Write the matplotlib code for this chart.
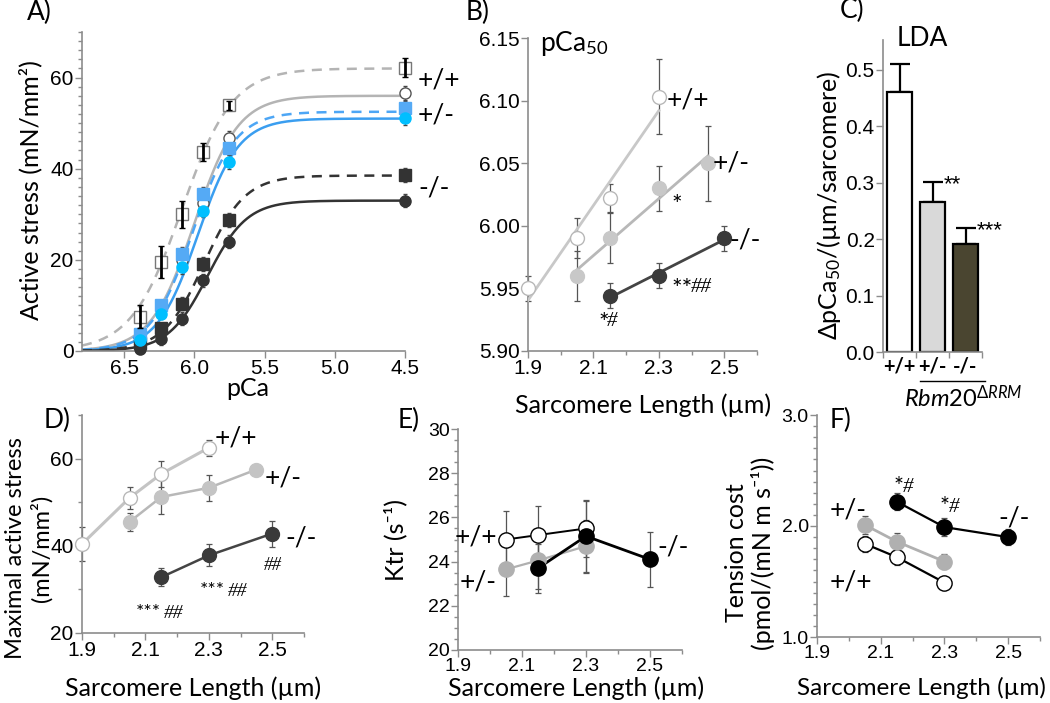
import numpy as np
import matplotlib
matplotlib.use("Agg")
import matplotlib.pyplot as plt
from matplotlib.ticker import MultipleLocator, FixedLocator

plt.rcParams['font.family'] = ['Lato', 'DejaVu Sans']
plt.rcParams['mathtext.fontset'] = 'custom'
plt.rcParams['mathtext.rm'] = 'Lato'
plt.rcParams['mathtext.it'] = 'Lato:italic'

W, H = 1050, 703
TICKFONT = ['Liberation Sans', 'DejaVu Sans']
LBL = 17.5
TK = 14

# ---------------- Panel A data ----------------
pCa_pts = [6.39, 6.24, 6.09, 5.94, 5.75, 4.5]
A_wt23 = [7.5, 19.5, 30.0, 43.7, 53.9, 62.2]
A_wt23_err = [2.5, 3.5, 3.0, 2.0, 1.0, 2.0]
A_wt215 = [4.0, 9.5, 20.0, 32.5, 46.8, 56.6]
A_het23 = [3.8, 10.0, 21.3, 34.4, 44.6, 53.3]
A_het215 = [2.4, 8.2, 18.4, 30.8, 41.5, 51.2]
A_ko23 = [1.7, 5.0, 10.4, 19.1, 28.8, 38.6]
A_ko215 = [0.4, 2.6, 7.1, 15.5, 24.0, 33.0]
A_small_err = [1.0, 1.2, 1.5, 1.5, 1.5, 1.5]
# Hill fit parameters (Fmax, pCa50, nH) for curves
hill_Fmax = [62.0, 56.0, 52.5, 51.0, 38.5, 33.0]
hill_pCa50 = [6.09, 6.00, 6.01, 5.975, 5.93, 5.905]
hill_nH = [2.4, 2.8, 2.9, 3.0, 3.0, 3.1]

# ---------------- Panel B data ----------------
B_wt_x = [1.9, 2.05, 2.15, 2.3]
B_wt_y = [5.95, 5.99, 6.022, 6.103]
B_wt_e = [0.01, 0.016, 0.011, 0.03]
B_het_x = [2.05, 2.15, 2.3, 2.45]
B_het_y = [5.96, 5.99, 6.03, 6.05]
B_het_e = [0.02, 0.02, 0.018, 0.03]
B_ko_x = [2.15, 2.3, 2.5]
B_ko_y = [5.944, 5.96, 5.99]
B_ko_e = [0.01, 0.01, 0.01]

# ---------------- Panel C data ----------------
C_groups = ['+/+', '+/-', '-/-']
C_vals = [0.46, 0.265, 0.192]
C_err = [0.05, 0.036, 0.028]
C_colors = ['white', '#d9d9d9', '#4a4530']
C_sig = ['', '**', '***']

# ---------------- Panel D data ----------------
D_wt_x = [1.9, 2.05, 2.15, 2.3]
D_wt_y = [40.4, 51.0, 56.5, 62.5]
D_wt_e = [4.0, 2.5, 3.0, 1.8]
D_het_x = [2.05, 2.15, 2.3, 2.45]
D_het_y = [45.5, 51.2, 53.3, 57.5]
D_het_e = [2.0, 4.0, 3.0, 0.5]
D_ko_x = [2.15, 2.3, 2.5]
D_ko_y = [32.8, 37.8, 42.8]
D_ko_e = [2.0, 2.5, 3.0]

# ---------------- Panel E data ----------------
E_wt_x = [2.05, 2.15, 2.3]
E_wt_y = [25.0, 25.2, 25.5]
E_wt_e = [1.3, 1.3, 1.3]
E_het_x = [2.05, 2.15, 2.3]
E_het_y = [23.65, 24.05, 24.7]
E_het_e = [1.2, 1.3, 1.2]
E_ko_x = [2.15, 2.3, 2.5]
E_ko_y = [23.7, 25.15, 24.1]
E_ko_e = [1.1, 1.6, 1.25]

# ---------------- Panel F data ----------------
F_wt_x = [2.05, 2.15, 2.3]
F_wt_y = [1.84, 1.72, 1.49]
F_wt_e = [0.07, 0.07, 0.05]
F_het_x = [2.05, 2.15, 2.3]
F_het_y = [2.01, 1.86, 1.68]
F_het_e = [0.08, 0.08, 0.07]
F_ko_x = [2.15, 2.3, 2.5]
F_ko_y = [2.22, 1.99, 1.90]
F_ko_e = [0.08, 0.08, 0.07]

fig = plt.figure(figsize=(W / 100, H / 100), dpi=100)


def ax_at(l, t, r, b):
    return fig.add_axes([l / W, 1 - b / H, (r - l) / W, (b - t) / H])


def style(ax, tk=TK):
    for s in ['top', 'right']:
        ax.spines[s].set_visible(False)
    for s in ['left', 'bottom']:
        ax.spines[s].set_color('#8c8c8c')
        ax.spines[s].set_linewidth(1.2)
    ax.tick_params(which='both', direction='out', color='#8c8c8c', width=1.0)
    ax.tick_params(which='major', length=5, labelsize=tk, pad=1)
    ax.tick_params(which='minor', length=3)
    ax.set_facecolor('none')
    for lab in ax.get_xticklabels() + ax.get_yticklabels():
        lab.set_family(TICKFONT)


def ftx(x, y, s, size=LBL, **kw):
    fig.text(x / W, 1 - y / H, s, fontsize=size, **kw)


def sl_axis(ax):
    ax.set_xlim(1.9, 2.6)
    ax.xaxis.set_major_locator(FixedLocator([1.9, 2.1, 2.3, 2.5]))
    ax.xaxis.set_minor_locator(FixedLocator([2.0, 2.2, 2.4, 2.6]))
    ax.tick_params(axis='x', which='minor', length=5)


def series(ax, x, y, e, fc, ec, lc, ms, lw=1.8, ecol='#555555'):
    ax.errorbar(x, y, yerr=e, fmt='none', ecolor=ecol, elinewidth=0.9,
                capsize=2.5, capthick=0.9, zorder=2, clip_on=False)
    ax.plot(x, y, '-', color=lc, lw=lw, zorder=3, clip_on=False)
    ax.plot(x, y, 'o', ms=ms, mfc=fc, mec=ec, mew=1.0, zorder=4, clip_on=False)


SERIF = ['Liberation Serif', 'DejaVu Serif']

# ================= Panel A =================
axA = ax_at(82, 32, 405, 351)
xs = np.linspace(6.8, 4.5, 400)
curve_styles = [('#b4b4b4', '--'), ('#b4b4b4', '-'), ('#4da6f5', '--'),
                ('#3a9ef0', '-'), ('#333333', '--'), ('#333333', '-')]
for (c, ls), fm, p50, nh in zip(curve_styles, hill_Fmax, hill_pCa50, hill_nH):
    line, = axA.plot(xs, fm / (1 + 10 ** (nh * (xs - p50))), color=c, lw=1.8,
                     zorder=2)
    if ls == '--':
        line.set_dashes((4, 3))
axA.errorbar(pCa_pts, A_wt23, yerr=A_wt23_err, fmt='none', ecolor='black',
             elinewidth=2.0, capsize=2, zorder=5, clip_on=False)
for yv, mk, fc, ec in [(A_wt215, 'o', 'white', '#555555'),
                       (A_wt23, 's', 'white', '#777777'),
                       (A_ko215, 'o', '#333333', '#333333'),
                       (A_ko23, 's', '#333333', '#333333'),
                       (A_het23, 's', '#55aaf5', '#55aaf5'),
                       (A_het215, 'o', '#00bfff', '#00bfff')]:
    if yv is not A_wt23:
        axA.errorbar(pCa_pts, yv, yerr=A_small_err, fmt='none', ecolor='#444444',
                     elinewidth=0.9, capsize=1.5, zorder=3, clip_on=False)
    axA.plot(pCa_pts, yv, mk, ms=8, mfc=fc, mec=ec, mew=1.0, zorder=4,
             clip_on=False)
axA.set_xlim(6.8, 4.5)
axA.set_ylim(0, 70)
axA.xaxis.set_major_locator(FixedLocator([6.5, 6.0, 5.5, 5.0, 4.5]))
axA.yaxis.set_major_locator(FixedLocator([0, 20, 40, 60]))
axA.yaxis.set_minor_locator(MultipleLocator(2))
style(axA, 15)
ftx(27, 20, 'A)', size=19)
ftx(30, 190, 'Active stress (mN/mm²)', rotation=90, ha='center', va='center',
    size=18)
ftx(248, 388, 'pCa', ha='center', va='center', size=18)
ftx(418, 80, '+/+', ha='left', va='center', size=19)
ftx(418, 115, '+/-', ha='left', va='center', size=19)
ftx(418, 188, '-/-', ha='left', va='center', size=19)

# ================= Panel B =================
axB = ax_at(528, 38, 757, 351)
for x, y, e, fc, ec, lc in [(B_wt_x, B_wt_y, B_wt_e, 'white', '#b8b8b8', '#c8c8c8'),
                            (B_het_x, B_het_y, B_het_e, '#c8c8c8', '#c8c8c8', '#b8b8b8'),
                            (B_ko_x, B_ko_y, B_ko_e, '#3a3a3a', '#3a3a3a', '#444444')]:
    axB.errorbar(x, y, yerr=e, fmt='none', ecolor='#555555', elinewidth=0.9,
                 capsize=2.5, capthick=0.9, zorder=2, clip_on=False)
    k, b0 = np.polyfit(x, y, 1)
    xx = np.array([min(x), max(x)])
    axB.plot(xx, k * xx + b0, '-', color=lc, lw=2.0, zorder=3)
    axB.plot(x, y, 'o', ms=10, mfc=fc, mec=ec, mew=1.0, zorder=4, clip_on=False)
sl_axis(axB)
axB.set_ylim(5.90, 6.15)
axB.yaxis.set_major_locator(MultipleLocator(0.05))
axB.yaxis.set_major_formatter(matplotlib.ticker.FormatStrFormatter('%.2f'))
style(axB, 15)
ftx(466, 20, 'B)', size=19)
ftx(540, 43, r'pCa$_{\mathregular{50}}$', ha='left', va='center', size=19)
ftx(643, 405, 'Sarcomere Length (µm)', ha='center', va='center', size=18)
ftx(667, 100, '+/+', ha='left', va='center', size=19)
ftx(713, 163, '+/-', ha='left', va='center', size=19)
ftx(729, 240, '-/-', ha='left', va='center', size=19)
ftx(671, 205, '*', ha='left', va='center', size=18)
ftx(671, 289, '**', ha='left', va='center', size=18)
ftx(691, 287, '##', ha='left', va='center', size=15, style='italic',
    family=SERIF)
ftx(598, 324, '*', ha='left', va='center', size=18)
ftx(607, 322, '#', ha='left', va='center', size=15, style='italic',
    family=SERIF)

# ================= Panel C =================
axC = ax_at(883, 40, 982, 352)
xpos = np.arange(len(C_groups))
axC.bar(xpos, C_vals, width=0.76, color=C_colors, edgecolor='black', lw=1.6,
        zorder=2)
axC.errorbar(xpos, C_vals, yerr=[[0] * 3, C_err], fmt='none', ecolor='black',
             elinewidth=1.6, capsize=7, capthick=1.6, zorder=1)
for xi, v, e, s in zip(xpos, C_vals, C_err, C_sig):
    if s:
        axC.text(xi + 0.33, v + e - 0.005, s, ha='left', va='center',
                 fontsize=16, family=TICKFONT)
axC.set_xlim(-0.5, 2.5)
axC.set_ylim(0, 0.553)
axC.yaxis.set_major_locator(MultipleLocator(0.1))
axC.yaxis.set_major_formatter(matplotlib.ticker.FormatStrFormatter('%.1f'))
axC.set_xticks(xpos)
axC.set_xticklabels(C_groups)
axC.xaxis.set_minor_locator(FixedLocator([-0.5, 0.5, 1.5, 2.5]))
style(axC, 15)
axC.tick_params(axis='x', which='major', length=0, labelsize=14.5, pad=3)
axC.tick_params(axis='x', which='minor', length=4)
for lab in axC.get_xticklabels():
    lab.set_fontweight('bold')
    lab.set_family(['Lato', 'DejaVu Sans'])
ftx(840, 18, 'C)', size=19)
ftx(922, 38, 'LDA', ha='center', va='center', size=19)
ftx(829, 205, r'ΔpCa$_{\mathregular{50}}$/(µm/sarcomere)', rotation=90,
    ha='center', va='center', size=18)
fig.add_artist(plt.Line2D([920 / W, 985 / W], [1 - 381 / H, 1 - 381 / H],
                          color='black', lw=1.0))
ftx(963, 398, r'$\mathit{Rbm20}^{\mathit{\Delta RRM}}$', ha='center', va='center',
    size=17)

# ================= Panel D =================
axD = ax_at(82, 415, 304, 633)
series(axD, D_wt_x, D_wt_y, D_wt_e, 'white', '#b8b8b8', '#c4c4c4', 10, lw=2.2)
series(axD, D_het_x, D_het_y, D_het_e, '#c4c4c4', '#c4c4c4', '#b8b8b8', 10)
series(axD, D_ko_x, D_ko_y, D_ko_e, '#3a3a3a', '#3a3a3a', '#444444', 10)
sl_axis(axD)
axD.set_ylim(20, 70)
axD.yaxis.set_major_locator(FixedLocator([20, 40, 60]))
axD.yaxis.set_minor_locator(MultipleLocator(10))
axD.tick_params(axis='y', which='minor', length=5)
style(axD, 15)
ftx(44, 428, 'D)', size=19)
ftx(16, 548, 'Maximal active stress', rotation=90, ha='center', va='center',
    size=17)
ftx(41, 548, '(mN/mm²)', rotation=90, ha='center', va='center', size=17)
ftx(193, 688, 'Sarcomere Length (µm)', ha='center', va='center', size=18)
ftx(215, 438, '+/+', ha='left', va='center', size=19)
ftx(265, 478, '+/-', ha='left', va='center', size=19)
ftx(285, 538, '-/-', ha='left', va='center', size=19)
ftx(264, 565, '##', ha='left', va='center', size=13, style='italic',
    family=SERIF)
ftx(200, 590, '***', ha='left', va='center', size=14)
ftx(228, 592, '##', ha='left', va='center', size=14, style='italic',
    family=SERIF)
ftx(136, 612, '***', ha='left', va='center', size=14)
ftx(164, 614, '##', ha='left', va='center', size=14, style='italic',
    family=SERIF)

# ================= Panel E =================
axE = ax_at(458, 429, 682, 650)
series(axE, E_het_x, E_het_y, E_het_e, '#b0b0b0', '#b0b0b0', '#b0b0b0', 11, lw=1.6)
series(axE, E_wt_x, E_wt_y, E_wt_e, 'white', 'black', 'black', 11, lw=1.4)
series(axE, E_ko_x, E_ko_y, E_ko_e, 'black', 'black', 'black', 11, lw=2.0)
sl_axis(axE)
axE.set_ylim(20, 30)
axE.yaxis.set_major_locator(MultipleLocator(2))
axE.yaxis.set_minor_locator(MultipleLocator(0.5))
style(axE, 14)
ftx(398, 428, 'E)', size=19)
ftx(395, 540, 'Ktr (s⁻¹)', rotation=90, ha='center', va='center', size=18)
ftx(576, 688, 'Sarcomere Length (µm)', ha='center', va='center', size=18)
ftx(497, 537, '+/+', ha='right', va='center', size=19)
ftx(497, 582, '+/-', ha='right', va='center', size=19)
ftx(657, 547, '-/-', ha='left', va='center', size=19)

# ================= Panel F =================
axF = ax_at(817, 415, 1040, 637)
series(axF, F_wt_x, F_wt_y, F_wt_e, 'white', 'black', 'black', 11, lw=1.6)
series(axF, F_het_x, F_het_y, F_het_e, '#b0b0b0', '#b0b0b0', '#b0b0b0', 11, lw=2.0)
series(axF, F_ko_x, F_ko_y, F_ko_e, 'black', 'black', 'black', 11, lw=1.6)
sl_axis(axF)
axF.set_ylim(1.0, 3.0)
axF.yaxis.set_major_locator(MultipleLocator(1.0))
axF.yaxis.set_minor_locator(MultipleLocator(0.1))
axF.yaxis.set_major_formatter(matplotlib.ticker.FormatStrFormatter('%.1f'))
style(axF, 14)
ftx(830, 428, 'F)', size=19)
ftx(736, 553, 'Tension cost', rotation=90, ha='center', va='center', size=18)
ftx(763, 553, '(pmol/(mN m s⁻¹))', rotation=90, ha='center', va='center',
    size=18)
ftx(1046, 688, 'Sarcomere Length (µm)', ha='right', va='center', size=17.5)
ftx(830, 510, '+/-', ha='left', va='center', size=19)
ftx(830, 582, '+/+', ha='left', va='center', size=19)
ftx(998, 518, '-/-', ha='left', va='center', size=19)
for xp, yp in [(894, 486), (940, 506)]:
    ftx(xp, yp, '*', ha='left', va='center', size=17)
    ftx(xp + 9, yp + 2, '#', ha='left', va='center', size=15, style='italic',
        family=SERIF)

fig.savefig('out.png', dpi=100)
